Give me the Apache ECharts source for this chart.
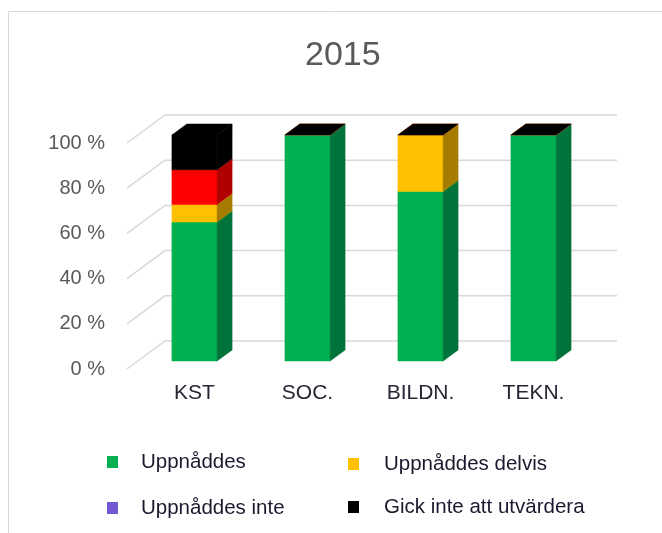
<!DOCTYPE html>
<html>
<head>
<meta charset="utf-8">
<script src="https://cdn.jsdelivr.net/npm/echarts@6/dist/echarts.min.js"></script>
<style>
html,body{margin:0;padding:0;background:#fff;}
#chart{width:662px;height:533px;}
</style>
</head>
<body>
<div id="chart"></div>
<script>
// ---- data ----
const title = '2015';
const categories = ['KST', 'SOC.', 'BILDN.', 'TEKN.'];
const seriesNames = ['Uppnåddes', 'Uppnåddes delvis', 'Uppnåddes inte', 'Gick inte att utvärdera'];
const uppnaddes = [61.5, 100, 75, 100];
const delvis = [7.7, 0, 25, 0];
const inte = [15.4, 0, 0, 0];
const gickInte = [15.4, 0, 0, 0];
const yTicks = [0, 20, 40, 60, 80, 100];

// ---- styles ----
const frontColors = ['#00b050', '#ffc000', '#ff0000', '#000000'];
const sideColors = ['#00733a', '#a67c00', '#b00000', '#000000'];
const topColors = ['#00c85a', '#ffd24d', '#ff4040', '#000000'];
const legendColors = ['#00b050', '#ffc000', '#7357d5', '#000000'];
const BAR_DX = 15, BAR_DY = -11;      // bar depth
const FRONT_DX = -11, FRONT_DY = 8;   // front wall plane offset from bar front
const BACK_DX = 27, BACK_DY = -20;    // back wall plane offset from bar front

const allSeries = [uppnaddes, delvis, inte, gickInte];

const chart = echarts.init(document.getElementById('chart'), null, {renderer: 'canvas'});

function barRender(si) {
  return function (params, api) {
    const i = api.value(0), lo = api.value(1), hi = api.value(2);
    const pLo = api.coord([i, lo]);
    const pHi = api.coord([i, hi]);
    const band = api.size([1, 0])[0];
    const w = band * 0.4;
    const x0 = pLo[0] - w / 2, x1 = x0 + w;
    const yb = pLo[1], yt = pHi[1];
    const children = [];
    if (yb - yt > 0.3) {
      children.push({
        type: 'rect',
        shape: {x: x0, y: yt, width: w, height: yb - yt},
        style: {fill: frontColors[si], stroke: frontColors[si], lineWidth: 0.5}
      });
      children.push({
        type: 'polygon',
        shape: {points: [[x1, yb], [x1, yt], [x1 + BAR_DX, yt + BAR_DY], [x1 + BAR_DX, yb + BAR_DY]]},
        style: {fill: sideColors[si], stroke: sideColors[si], lineWidth: 0.5}
      });
    }
    children.push({
      type: 'polygon',
      shape: {points: [[x0, yt], [x1, yt], [x1 + BAR_DX, yt + BAR_DY], [x0 + BAR_DX, yt + BAR_DY]]},
      style: {fill: topColors[si], stroke: topColors[si], lineWidth: 0.5}
    });
    return {type: 'group', children: children};
  };
}

const series = [];
series.push({
  type: 'custom',
  name: 'grid',
  xAxisIndex: 0, yAxisIndex: 0,
  silent: true,
  z: 1,
  data: yTicks.map(v => [0, v]),
  encode: {x: 0, y: 1},
  renderItem: function (params, api) {
    const y = api.coord([0, api.value(1)])[1];
    const left = params.coordSys.x;
    const right = params.coordSys.x + params.coordSys.width;
    return {
      type: 'polyline',
      shape: {points: [[left + FRONT_DX, y + FRONT_DY], [left + BACK_DX, y + BACK_DY], [right + BACK_DX, y + BACK_DY]]},
      style: {stroke: '#d9d9d9', lineWidth: 1.5, fill: null}
    };
  }
});

allSeries.forEach((arr, si) => {
  const data = arr.map((v, i) => {
    let base = 0;
    for (let k = 0; k < si; k++) base += allSeries[k][i];
    return [i, base, base + v];
  });
  series.push({
    type: 'custom',
    name: seriesNames[si],
    xAxisIndex: 0, yAxisIndex: 0,
    z: 2 + si,
    itemStyle: {color: legendColors[si]},
    data: data,
    encode: {x: 0, y: [1, 2]},
    renderItem: barRender(si)
  });
});

const legendPos = [
  {left: 107, top: 450},
  {left: 348, top: 452},
  {left: 107, top: 496},
  {left: 348, top: 495}
];
const legends = seriesNames.map((n, k) => ({
  data: [n],
  left: legendPos[k].left,
  top: legendPos[k].top,
  padding: 0,
  icon: 'rect',
  itemWidth: 11,
  itemHeight: 12,
  selectedMode: false,
  textStyle: {
    fontFamily: 'Liberation Sans, Arial, sans-serif',
    fontSize: 20.5,
    color: '#1a1a2e',
    lineHeight: 24,
    padding: [0, 0, 0, k % 2 === 0 ? 18 : 20]
  }
}));

const option = {
  animation: false,
  backgroundColor: '#ffffff',
  title: {
    text: title,
    left: 300,
    top: 34,
    textStyle: {fontFamily: 'Liberation Sans, Arial, sans-serif', fontSize: 34, fontWeight: 'normal', color: '#595959'}
  },
  legend: legends,
  grid: [
    {left: 138, right: 72, top: 135, bottom: 172},
    {left: 127, right: 83, top: 143, bottom: 164}
  ],
  xAxis: [
    {
      type: 'category', gridIndex: 0, data: categories,
      axisLine: {show: false}, axisTick: {show: false}, splitLine: {show: false},
      axisLabel: {margin: 22, fontFamily: 'Liberation Sans, Arial, sans-serif', fontSize: 21, color: '#262633'}
    },
    {
      type: 'category', gridIndex: 1, data: categories, show: false
    }
  ],
  yAxis: [
    {type: 'value', gridIndex: 0, min: 0, max: 100, interval: 20, show: false},
    {
      type: 'value', gridIndex: 1, min: 0, max: 100, interval: 20,
      axisLine: {show: false}, axisTick: {show: false}, splitLine: {show: false},
      axisLabel: {margin: 22, formatter: '{value} %', fontFamily: 'Liberation Sans, Arial, sans-serif', fontSize: 20, color: '#595959'}
    }
  ],
  graphic: [
    {type: 'line', shape: {x1: 8.5, y1: 11.5, x2: 662, y2: 11.5}, style: {stroke: '#d9d9d9', lineWidth: 1}, silent: true},
    {type: 'line', shape: {x1: 8.5, y1: 11.5, x2: 8.5, y2: 533}, style: {stroke: '#d9d9d9', lineWidth: 1}, silent: true}
  ],
  series: series
};
chart.setOption(option);
</script>
</body>
</html>
